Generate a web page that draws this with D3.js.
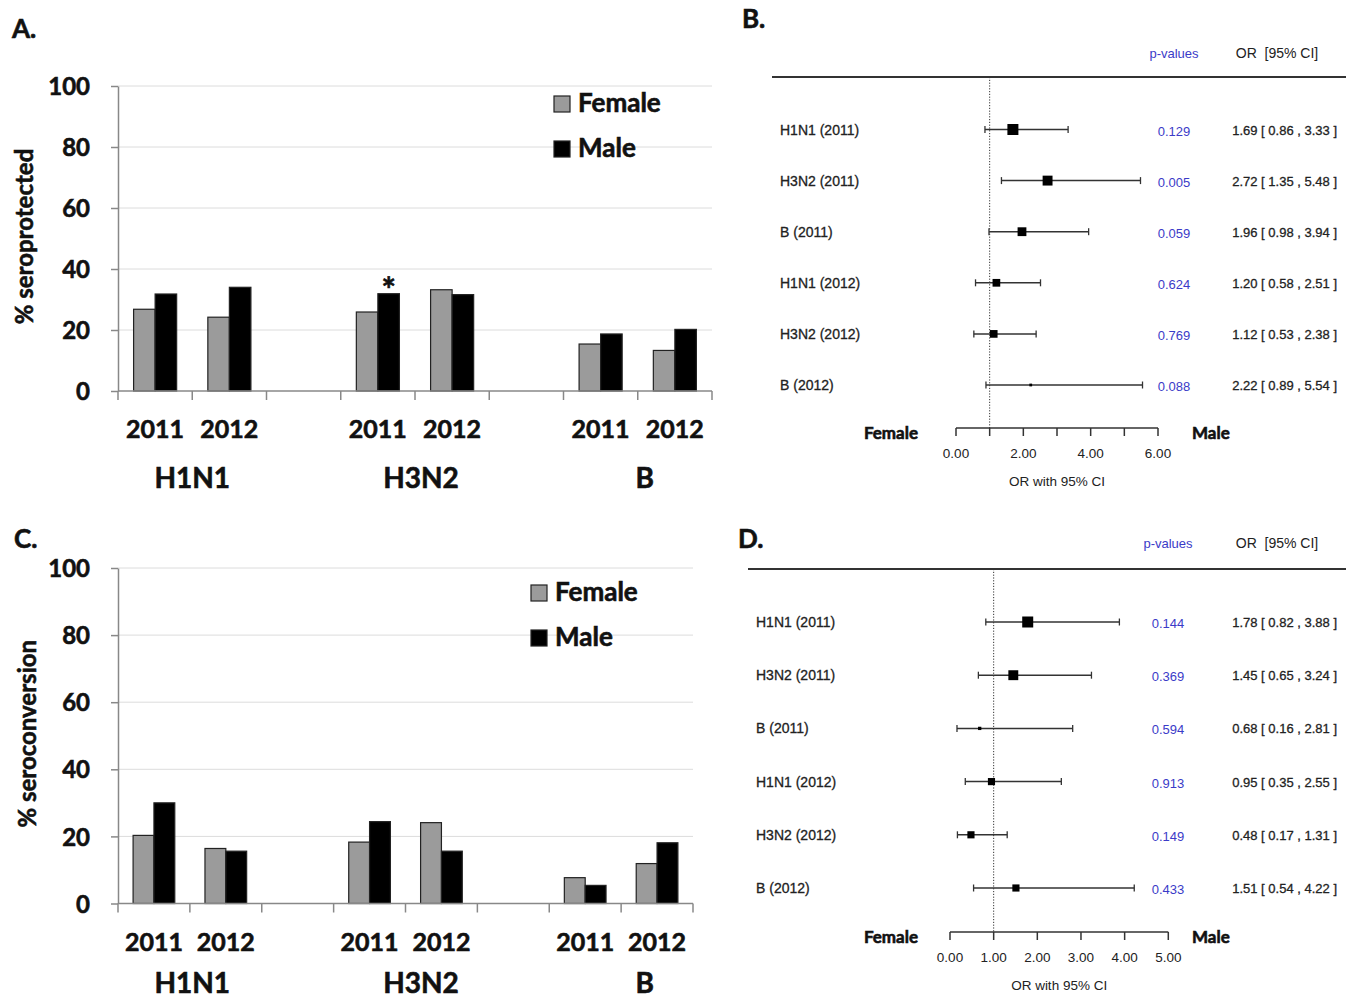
<!DOCTYPE html>
<html lang="en">
<head>
    <meta charset="UTF-8">
    <title>Seroprotection and seroconversion by sex</title>
    <script src="https://d3js.org/d3.v7.min.js"></script>
    <style>
        body {
            margin: 0;
            background: #fff;
        }
        svg {
            display: block;
        }
        .excel {
            font-family: "Lato", "Open Sans", sans-serif;
            font-weight: bold;
            fill: #111;
            stroke: #111;
            stroke-width: 0.6px;
        }
        .forest {
            font-family: "Liberation Sans", Arial, sans-serif;
            fill: #222;
        }
    </style>
</head>
<body>
<div id="chart"></div>

<script>
    const width = 1356;
    const height = 1001;

    // Balkendiagramme (A, C)
    const slots = ["H1N1 2011", "H1N1 2012", "gap1", "H3N2 2011", "H3N2 2012", "gap2", "B 2011", "B 2012"];
    const slotYears = ["2011", "2012", "", "2011", "2012", "", "2011", "2012"];
    const viruses = ["H1N1", "H3N2", "B"];
    const barSlots = ["H1N1 2011", "H1N1 2012", "H3N2 2011", "H3N2 2012", "B 2011", "B 2012"];
    const sexes = ["Female", "Male"];
    const yTicks = [0, 20, 40, 60, 80, 100];

    const seroprotFemale = [26.8, 24.2, 25.9, 33.2, 15.4, 13.3];
    const seroprotMale   = [31.8, 34.0, 31.9, 31.6, 18.7, 20.2];
    const seroconvFemale = [20.3, 16.4, 18.3, 24.1, 7.7, 11.9];
    const seroconvMale   = [30.0, 15.6, 24.4, 15.6, 5.4, 18.1];

    // Forest plots (B, D)
    const forestLabels = ["H1N1 (2011)", "H3N2 (2011)", "B (2011)", "H1N1 (2012)", "H3N2 (2012)", "B (2012)"];

    const orB  = [1.69, 2.72, 1.96, 1.20, 1.12, 2.22];
    const loB  = [0.86, 1.35, 0.98, 0.58, 0.53, 0.89];
    const hiB  = [3.33, 5.48, 3.94, 2.51, 2.38, 5.54];
    const pB   = ["0.129", "0.005", "0.059", "0.624", "0.769", "0.088"];
    const wB   = [1.0, 0.9, 0.8, 0.7, 0.7, 0.25];
    const ticksB = [0, 1, 2, 3, 4, 5, 6];
    const tickLabelsB = ["0.00", "", "2.00", "", "4.00", "", "6.00"];

    const orD  = [1.78, 1.45, 0.68, 0.95, 0.48, 1.51];
    const loD  = [0.82, 0.65, 0.16, 0.35, 0.17, 0.54];
    const hiD  = [3.88, 3.24, 2.81, 2.55, 1.31, 4.22];
    const pD   = ["0.144", "0.369", "0.594", "0.913", "0.149", "0.433"];
    const wD   = [1.0, 0.9, 0.3, 0.65, 0.65, 0.65];
    const ticksD = [0, 1, 2, 3, 4, 5];
    const tickLabelsD = ["0.00", "1.00", "2.00", "3.00", "4.00", "5.00"];

    const fmt = d3.format(".2f");

    const svg = d3.select("#chart").append("svg")
        .attr("width", width)
        .attr("height", height);

    svg.append("rect").attr("width", width).attr("height", height).attr("fill", "#fff");

    // Panel-Buchstaben
    const letters = [["A.", 12, 38], ["B.", 742, 28], ["C.", 14, 548], ["D.", 738, 548]];
    svg.selectAll(".letter")
        .data(letters)
        .join("text")
        .attr("class", "letter excel")
        .attr("x", d => d[1])
        .attr("y", d => d[2])
        .style("font-size", "26px")
        .text(d => d[0]);

    function drawBars(cfg) {
        const g = svg.append("g");

        const x = d3.scaleBand().domain(slots).range([cfg.x0, cfg.x1]).padding(0);
        const y = d3.scaleLinear().domain([0, 100]).range([cfg.y0, cfg.y1]);
        const bw = x.bandwidth();
        const inner = d3.scaleBand().domain(sexes).range([bw * 0.21, bw * 0.79]);

        // Gitterlinien
        g.selectAll(".grid")
            .data(yTicks.slice(1))
            .join("line")
            .attr("x1", cfg.x0).attr("x2", cfg.x1)
            .attr("y1", d => y(d)).attr("y2", d => y(d))
            .attr("stroke", "#dcdcdc")
            .attr("stroke-width", 1);

        // y-Achse
        const yAxis = g.append("g")
            .attr("transform", `translate(${cfg.x0},0)`)
            .call(d3.axisLeft(y).tickValues(yTicks).tickSize(7).tickSizeOuter(0).tickPadding(21));
        yAxis.select(".domain").attr("stroke", "#888").attr("stroke-width", 1.5);
        yAxis.selectAll(".tick line").attr("stroke", "#888").attr("stroke-width", 1.5);
        yAxis.selectAll(".tick text")
            .attr("class", "excel")
            .attr("fill", "#111")
            .style("font-size", "24px")
            .attr("dy", "0.36em");

        // Balken
        const rows = [];
        barSlots.forEach((s, i) => {
            rows.push({slot: s, sex: "Female", value: cfg.female[i]});
            rows.push({slot: s, sex: "Male", value: cfg.male[i]});
        });
        g.selectAll(".bar")
            .data(rows)
            .join("rect")
            .attr("x", d => x(d.slot) + inner(d.sex))
            .attr("y", d => y(d.value))
            .attr("width", inner.bandwidth())
            .attr("height", d => y(0) - y(d.value))
            .attr("fill", d => d.sex === "Female" ? "#9b9b9b" : "#000")
            .attr("stroke", "#222")
            .attr("stroke-width", 1.2);

        // x-Achse
        g.append("line")
            .attr("x1", cfg.x0).attr("x2", cfg.x1)
            .attr("y1", y(0)).attr("y2", y(0))
            .attr("stroke", "#888").attr("stroke-width", 1.5);
        g.selectAll(".xtick")
            .data(d3.range(slots.length + 1))
            .join("line")
            .attr("x1", d => cfg.x0 + d * x.step()).attr("x2", d => cfg.x0 + d * x.step())
            .attr("y1", y(0)).attr("y2", y(0) + 9)
            .attr("stroke", "#888").attr("stroke-width", 1.5);

        g.selectAll(".year")
            .data(slots.filter((s, i) => slotYears[i] !== ""))
            .join("text")
            .attr("class", "excel")
            .attr("x", d => x(d) + bw / 2)
            .attr("y", y(0) + 47)
            .attr("text-anchor", "middle")
            .style("font-size", "25px")
            .text(d => slotYears[slots.indexOf(d)]);

        // Virus-Beschriftung (Textfelder, an gleicher Stelle in beiden Panels)
        const xa = d3.scaleBand().domain(slots).range([118, 712]);
        const nudge = [0, 6, 7];
        g.selectAll(".virus")
            .data(viruses)
            .join("text")
            .attr("class", "excel")
            .attr("x", (d, i) => xa(d + " 2012") + nudge[i])
            .attr("y", cfg.groupY)
            .attr("text-anchor", "middle")
            .style("font-size", "28px")
            .text(d => d);

        // y-Beschriftung
        g.append("text")
            .attr("class", "excel")
            .attr("transform", `translate(${cfg.labelX},${(y(0) + y(100)) / 2 - 2}) rotate(-90)`)
            .attr("text-anchor", "middle")
            .style("font-size", "24px")
            .text(cfg.yLabel);

        // Legende
        const leg = g.selectAll(".legend")
            .data(sexes)
            .join("g")
            .attr("transform", (d, i) => `translate(${cfg.legendX},${cfg.legendY + i * 45})`);
        leg.append("rect")
            .attr("width", 16).attr("height", 16)
            .attr("fill", d => d === "Female" ? "#9b9b9b" : "#000")
            .attr("stroke", "#222").attr("stroke-width", 1.2);
        leg.append("text")
            .attr("class", "excel")
            .attr("x", 24).attr("y", 16)
            .style("font-size", "26px")
            .text(d => d);

        return {g, x, y, inner};
    }

    function drawForest(cfg) {
        const g = svg.append("g");

        const x = d3.scaleLinear().domain([0, d3.max(cfg.ticks)]).range([cfg.ax0, cfg.ax1]);
        const y = d3.scalePoint().domain(forestLabels).range([cfg.row0, cfg.row1]);
        const size = d3.scaleLinear().domain([0, 1]).range([0, 11]);

        // Kopfzeile
        g.append("text")
            .attr("class", "forest")
            .attr("x", cfg.pX).attr("y", cfg.headY)
            .attr("text-anchor", "middle")
            .style("fill", "#3b3bc8")
            .style("font-size", "13px")
            .text("p-values");
        g.append("text")
            .attr("class", "forest")
            .attr("x", 1277).attr("y", cfg.headY)
            .attr("text-anchor", "middle")
            .style("font-size", "14px")
            .style("white-space", "pre")
            .text("OR  [95% CI]");
        g.append("line")
            .attr("x1", cfg.lineX0).attr("x2", 1346)
            .attr("y1", cfg.lineY).attr("y2", cfg.lineY)
            .attr("stroke", "#333").attr("stroke-width", 2);

        // Referenzlinie bei OR = 1
        g.append("line")
            .attr("x1", x(1)).attr("x2", x(1))
            .attr("y1", cfg.lineY).attr("y2", cfg.axisY)
            .attr("stroke", "#333").attr("stroke-width", 1)
            .attr("stroke-dasharray", "1.2,1.6");

        const rows = forestLabels.map((d, i) => ({
            label: d, or: cfg.or[i], lo: cfg.lo[i], hi: cfg.hi[i], p: cfg.p[i], w: cfg.w[i]
        }));

        const row = g.selectAll(".row")
            .data(rows)
            .join("g")
            .attr("transform", d => `translate(0,${y(d.label)})`);

        row.append("text")
            .attr("class", "forest")
            .attr("x", cfg.labelX).attr("y", 5)
            .style("font-size", "14px")
            .style("stroke", "#222")
            .style("stroke-width", "0.3px")
            .text(d => d.label);

        row.append("line")
            .attr("x1", d => x(d.lo)).attr("x2", d => x(d.hi))
            .attr("stroke", "#333").attr("stroke-width", 1.5);
        row.selectAll(".cap")
            .data(d => [d.lo, d.hi])
            .join("line")
            .attr("x1", d => x(d)).attr("x2", d => x(d))
            .attr("y1", -3.5).attr("y2", 3.5)
            .attr("stroke", "#333").attr("stroke-width", 1.3);
        row.append("rect")
            .attr("x", d => x(d.or) - size(d.w) / 2)
            .attr("y", d => -size(d.w) / 2)
            .attr("width", d => size(d.w))
            .attr("height", d => size(d.w))
            .attr("fill", "#000");

        row.append("text")
            .attr("class", "forest")
            .attr("x", cfg.pX).attr("y", 6)
            .attr("text-anchor", "middle")
            .style("fill", "#3b3bc8")
            .style("font-size", "13px")
            .text(d => d.p);
        row.append("text")
            .attr("class", "forest")
            .attr("x", 1337).attr("y", 5)
            .attr("text-anchor", "end")
            .style("font-size", "13px")
            .style("stroke", "#222")
            .style("stroke-width", "0.3px")
            .text(d => `${fmt(d.or)} [ ${fmt(d.lo)} , ${fmt(d.hi)} ]`);

        // x-Achse
        g.append("line")
            .attr("x1", x(0)).attr("x2", x(d3.max(cfg.ticks)))
            .attr("y1", cfg.axisY).attr("y2", cfg.axisY)
            .attr("stroke", "#333").attr("stroke-width", 1.5);
        g.selectAll(".ftick")
            .data(cfg.ticks)
            .join("line")
            .attr("x1", d => x(d)).attr("x2", d => x(d))
            .attr("y1", cfg.axisY).attr("y2", cfg.axisY + 8)
            .attr("stroke", "#333").attr("stroke-width", 1.5);
        g.selectAll(".flabel")
            .data(cfg.ticks)
            .join("text")
            .attr("class", "forest")
            .attr("x", d => x(d)).attr("y", cfg.axisY + 30)
            .attr("text-anchor", "middle")
            .style("font-size", "13.5px")
            .text((d, i) => cfg.tickLabels[i]);
        g.append("text")
            .attr("class", "forest")
            .attr("x", x(d3.max(cfg.ticks) / 2)).attr("y", cfg.axisY + 58)
            .attr("text-anchor", "middle")
            .style("font-size", "13.5px")
            .text("OR with 95% CI");

        g.append("text")
            .attr("class", "excel")
            .attr("x", 918).attr("y", cfg.axisY + 11)
            .attr("text-anchor", "end")
            .style("font-size", "17px")
            .text("Female");
        g.append("text")
            .attr("class", "excel")
            .attr("x", 1192).attr("y", cfg.axisY + 11)
            .style("font-size", "17px")
            .text("Male");
    }

    // Panel A
    const panelA = drawBars({
        x0: 118, x1: 712, y0: 391, y1: 86,
        female: seroprotFemale, male: seroprotMale,
        yLabel: "% seroprotected", labelX: 33,
        legendX: 554, legendY: 96, groupY: 488
    });

    // Stern über H3N2 2011 (Male)
    panelA.g.append("text")
        .attr("class", "excel")
        .attr("x", panelA.x("H3N2 2011") + panelA.inner("Male") + panelA.inner.bandwidth() / 2)
        .attr("y", panelA.y(seroprotMale[2]) + 8)
        .attr("text-anchor", "middle")
        .style("font-size", "34px")
        .text("*");

    // Panel C
    drawBars({
        x0: 118, x1: 693, y0: 903.5, y1: 568,
        female: seroconvFemale, male: seroconvMale,
        yLabel: "% seroconversion", labelX: 36,
        legendX: 531, legendY: 585, groupY: 993
    });

    // Panel B
    drawForest({
        or: orB, lo: loB, hi: hiB, p: pB, w: wB,
        ticks: ticksB, tickLabels: tickLabelsB,
        ax0: 956, ax1: 1158, row0: 129.5, row1: 385,
        headY: 58, lineY: 77, lineX0: 772, axisY: 428,
        labelX: 780, pX: 1174
    });

    // Panel D
    drawForest({
        or: orD, lo: loD, hi: hiD, p: pD, w: wD,
        ticks: ticksD, tickLabels: tickLabelsD,
        ax0: 950, ax1: 1168.3, row0: 622, row1: 888,
        headY: 548, lineY: 569, lineX0: 748, axisY: 932,
        labelX: 756, pX: 1168
    });
</script>
</body>
</html>
